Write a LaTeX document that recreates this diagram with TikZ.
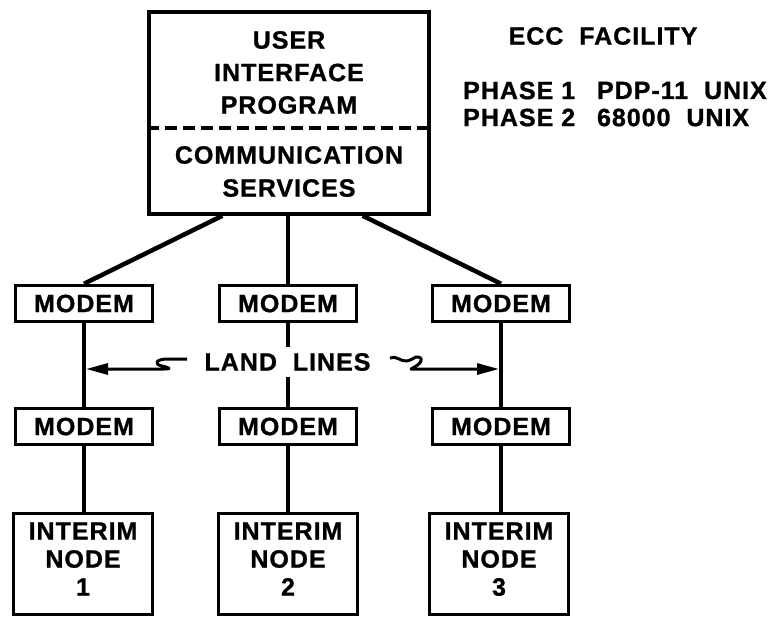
\documentclass[tikz,border=0pt]{standalone}
\usepackage{fontspec}
\usetikzlibrary{arrows.meta,calc}
\newfontfamily\lbl{Liberation Sans}[LetterSpace=4, FakeBold=1]
\tikzset{
  lettering/.style={font={\lbl\bfseries\fontsize{25}{28}\selectfont}},
  box/.style={draw, line width=3.5pt, inner sep=0pt, lettering},
  modembox/.style={box, minimum width=137pt, minimum height=36pt},
  nodebox/.style={box, minimum width=139pt, minimum height=101pt, align=center, text depth=10pt},
  caption/.style={lettering, inner sep=0pt},
  link/.style={line width=4.5pt},
  landline/.style={line width=3pt, line join=round, -{Triangle[length=22pt,width=11pt]}}
}
\begin{document}
\begin{tikzpicture}[x=1pt, y=-1pt]
\useasboundingbox (0,0) rectangle (772,619);

% central computer
\node[box, minimum width=280pt, minimum height=202pt] (top) at (289,113) {};
\coordinate (dl) at (0,128);
\draw[line width=3.5pt, dash pattern=on 12pt off 6pt] (top.west |- dl) -- (top.east |- dl);
\node[caption, align=center, font={\lbl\bfseries\fontsize{25}{32.5}\selectfont}] (uip) at (289,72.5) {USER\\INTERFACE\\PROGRAM};
\node[caption, align=center, font={\lbl\bfseries\fontsize{25}{33}\selectfont}] (cs) at (289,171.5) {COMMUNICATION\\SERVICES};

% facility notes
\node[caption] (ecc) at (603,36) {ECC\ \ FACILITY};
\node[caption, anchor=west] (p1) at (463,90.5) {PHASE 1};
\node[caption, anchor=east] (p1s) at (767,90.5) {PDP-11\ \ UNIX};
\node[caption, anchor=west] (p2) at (463,117.5) {PHASE 2};
\node[caption, anchor=west] (p2s) at (p1s.west |- p2.west) {68000\ \ UNIX};

% modems, host side
\node[modembox] (m1) at (84,303.5) {MODEM};
\node[modembox] (m2) at (288,303.5) {MODEM};
\node[modembox] (m3) at (501,303.5) {MODEM};
% modems, remote side
\node[modembox] (m4) at (84,426.5) {MODEM};
\node[modembox] (m5) at (288,426.5) {MODEM};
\node[modembox] (m6) at (501,426.5) {MODEM};
% interim nodes
\node[nodebox] (n1) at (83,564) {INTERIM\\NODE\\1};
\node[nodebox] (n2) at (288,564) {INTERIM\\NODE\\2};
\node[nodebox] (n3) at (499,564) {INTERIM\\NODE\\3};

% host to modems
\draw[link] ($(top.south)!0.47!(top.south west)$) -- (m1.north);
\draw[link] (top.south -| m2.north) -- (m2.north);
\draw[link] ($(top.south)!0.52!(top.south east)$) -- (m3.north);

% land lines label
\node[caption, inner ysep=6pt] (land) at (287.5,362) {LAND\ \ LINES};

% modem pairs
\draw[link] (m1.south) -- (m4.north);
\draw[link] (m2.south) -- (m2.south |- land.north);
\draw[link] (m5.north |- land.south) -- (m5.north);
\draw[link] (m3.south) -- (m6.north);

% modems to interim nodes
\draw[link] (m4.south) -- (m4.south |- n1.north);
\draw[link] (m5.south) -- (m5.south |- n2.north);
\draw[link] (m6.south) -- (m6.south |- n3.north);

% land line arrows
\coordinate (lvl) at (0,369);
\coordinate (sqL) at (187,359);
\coordinate (sqR) at (390,358);
\draw[landline] (sqL) -- (168,359) .. controls (156,359) and (153,364) .. (162,366)
  .. controls (170,368) and (172,369) .. (164,369) -- ($(m1.south |- lvl)+(2,0)$);
\draw[landline] (sqR) .. controls (396,355) and (401,362) .. (407,361)
  .. controls (413,360) and (414,356) .. (419,357)
  .. controls (424,359) and (421,364) .. (411,369) -- ($(m3.south |- lvl)+(-2,0)$);
\end{tikzpicture}
\end{document}
